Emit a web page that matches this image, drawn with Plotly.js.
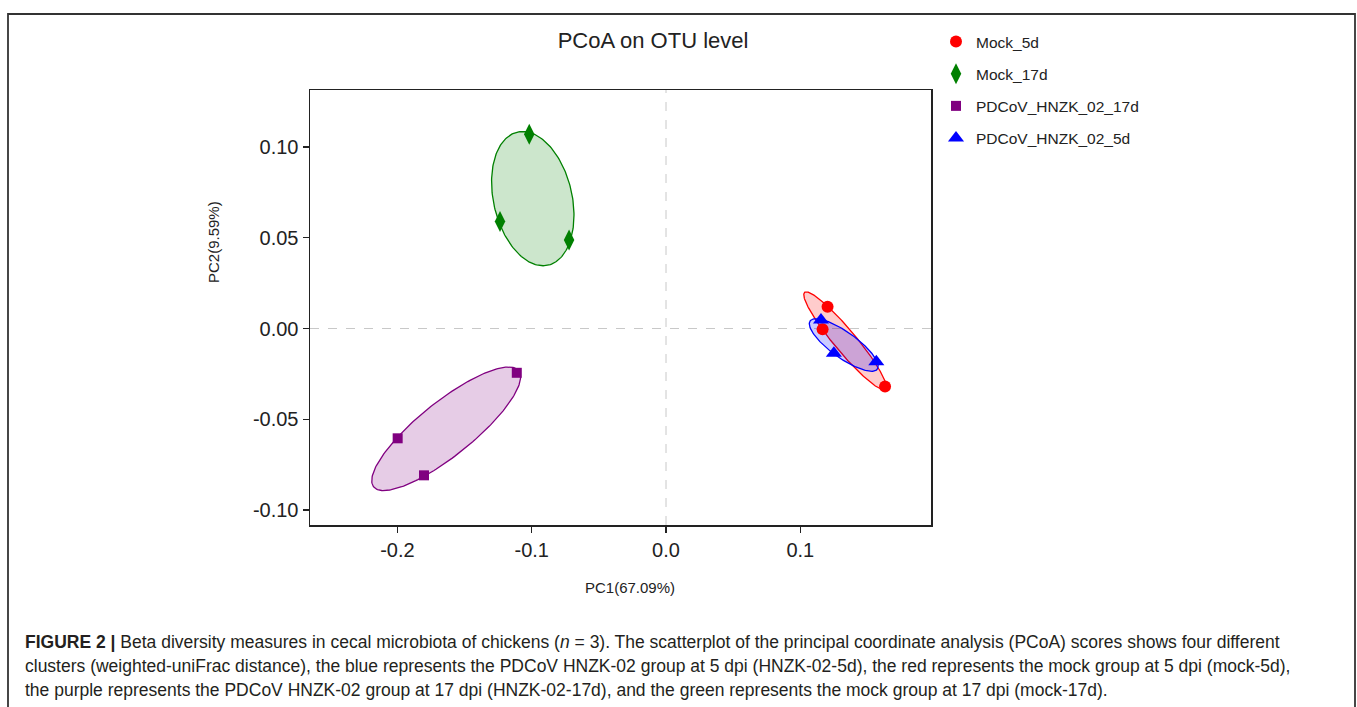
<!DOCTYPE html>
<html>
<head>
<meta charset="utf-8">
<script src="https://cdn.plot.ly/plotly-3.0.1.min.js"></script>
<style>
  html, body { margin: 0; padding: 0; background: #ffffff; }
  #chart { width: 1357px; height: 707px; }
</style>
</head>
<body>
<div id="chart"></div>
<script>
// ---- Data ----
const groupNames = ["Mock_5d", "Mock_17d", "PDCoV_HNZK_02_17d", "PDCoV_HNZK_02_5d"];
const mock5dPC1 = [0.1203, 0.1166, 0.1631];
const mock5dPC2 = [0.0120, -0.0004, -0.0320];
const mock17dPC1 = [-0.1018, -0.1236, -0.0722];
const mock17dPC2 = [0.1070, 0.0589, 0.0488];
const pd17dPC1 = [-0.1111, -0.1998, -0.1802];
const pd17dPC2 = [-0.0244, -0.0605, -0.0809];
const pd5dPC1 = [0.1154, 0.1250, 0.1566];
const pd5dPC2 = [0.0047, -0.0137, -0.0183];
const xTickVals = [-0.2, -0.1, 0.0, 0.1];
const xTickText = ["-0.2", "-0.1", "0.0", "0.1"];
const yTickVals = [-0.10, -0.05, 0.00, 0.05, 0.10];
const yTickText = ["-0.10", "-0.05", "0.00", "0.05", "0.10"];

// ---- Styles ----
const colors = ["#FF0000", "#008000", "#800080", "#0000FF"];
const fills = ["rgba(255,0,0,0.2)", "rgba(0,128,0,0.2)", "rgba(128,0,128,0.2)", "rgba(0,0,255,0.2)"];
const symbols = ["circle", "diamond-tall", "square", "triangle-up"];
const sizes = [12, 15, 10, 14];

const groupsX = [mock5dPC1, mock17dPC1, pd17dPC1, pd5dPC1];
const groupsY = [mock5dPC2, mock17dPC2, pd17dPC2, pd5dPC2];

// covariance ellipse through the group's points (centred on the centroid)
function ellipse(xs, ys, nPts) {
  const m = xs.length;
  const mx = xs.reduce((a, b) => a + b, 0) / m;
  const my = ys.reduce((a, b) => a + b, 0) / m;
  let sxx = 0, syy = 0, sxy = 0;
  for (let i = 0; i < m; i++) {
    sxx += (xs[i] - mx) ** 2; syy += (ys[i] - my) ** 2; sxy += (xs[i] - mx) * (ys[i] - my);
  }
  sxx /= (m - 1); syy /= (m - 1); sxy /= (m - 1);
  const det = sxx * syy - sxy * sxy;
  let d2max = 0;
  for (let i = 0; i < m; i++) {
    const dx = xs[i] - mx, dy = ys[i] - my;
    const d2 = (syy * dx * dx - 2 * sxy * dx * dy + sxx * dy * dy) / det;
    if (d2 > d2max) d2max = d2;
  }
  const r = Math.sqrt(d2max) * 1.03;
  const half = (sxx + syy) / 2;
  const disc = Math.sqrt(((sxx - syy) / 2) ** 2 + sxy * sxy);
  const l1 = half + disc, l2 = Math.max(half - disc, 0);
  const th = 0.5 * Math.atan2(2 * sxy, sxx - syy);
  const a = r * Math.sqrt(l1), b = r * Math.sqrt(l2);
  const ex = [], ey = [];
  for (let k = 0; k <= nPts; k++) {
    const t = 2 * Math.PI * k / nPts;
    ex.push(mx + a * Math.cos(t) * Math.cos(th) - b * Math.sin(t) * Math.sin(th));
    ey.push(my + a * Math.cos(t) * Math.sin(th) + b * Math.sin(t) * Math.cos(th));
  }
  return { x: ex, y: ey };
}

const traces = [];
for (let g = 0; g < groupNames.length; g++) {
  const e = ellipse(groupsX[g], groupsY[g], 200);
  traces.push({
    type: "scatter", mode: "lines", x: e.x, y: e.y,
    fill: "toself", fillcolor: fills[g],
    line: { color: colors[g], width: 1.3 },
    showlegend: false, hoverinfo: "skip", legendgroup: "g" + g
  });
}
for (let g = 0; g < groupNames.length; g++) {
  traces.push({
    type: "scatter", mode: "markers", name: groupNames[g],
    x: groupsX[g], y: groupsY[g],
    marker: { color: colors[g], symbol: symbols[g], size: sizes[g], line: { width: 0 } },
    legendgroup: "g" + g
  });
}

const font = "Liberation Sans, Arial, Helvetica, sans-serif";
const W = 1357, H = 707, L = 310, R = 931, T = 90, B = 525;
const pw = R - L, ph = B - T;
const px = (p) => (p - L) / pw;          // pixel -> paper x
const py = (p) => (B - p) / ph;          // pixel -> paper y

const captionLines = [
  "<b>FIGURE 2 |</b> Beta diversity measures in cecal microbiota of chickens (<i>n</i> = 3). The scatterplot of the principal coordinate analysis (PCoA) scores shows four different",
  "clusters (weighted-uniFrac distance), the blue represents the PDCoV HNZK-02 group at 5 dpi (HNZK-02-5d), the red represents the mock group at 5 dpi (mock-5d),",
  "the purple represents the PDCoV HNZK-02 group at 17 dpi (HNZK-02-17d), and the green represents the mock group at 17 dpi (mock-17d)."
];
const captionY = [642, 666, 690];

const annotations = [
  { text: "PC2(9.59%)", xref: "paper", yref: "paper", x: px(213), y: py(242), textangle: -90,
    showarrow: false, xanchor: "center", yanchor: "middle", font: { family: font, size: 15, color: "#222" } },
  { text: "PC1(67.09%)", xref: "paper", yref: "paper", x: px(630), y: py(587),
    showarrow: false, xanchor: "center", yanchor: "middle", font: { family: font, size: 15, color: "#222" } }
];
captionLines.forEach((t, i) => annotations.push({
  text: t, xref: "paper", yref: "paper", x: px(23), y: py(captionY[i]),
  showarrow: false, xanchor: "left", yanchor: "middle", align: "left",
  font: { family: font, size: 17.5, color: "#231f20" }
}));

const layout = {
  width: W, height: H,
  margin: { l: L, r: W - R, t: T, b: H - B, pad: 0 },
  paper_bgcolor: "#ffffff", plot_bgcolor: "#ffffff",
  font: { family: font, color: "#222" },
  title: { text: "PCoA on OTU level", xref: "paper", x: px(653), y: 1 - 40 / H,
    xanchor: "center", yanchor: "middle", font: { family: font, size: 22, color: "#222" } },
  xaxis: {
    range: [(L - 666) / 1343, (R - 666) / 1343],
    tickvals: xTickVals, ticktext: xTickText,
    showgrid: false, zeroline: false,
    showline: true, mirror: true, linecolor: "#222", linewidth: 1.5,
    ticks: "outside", ticklen: 6, tickwidth: 1.2, tickcolor: "#222",
    tickfont: { family: font, size: 20, color: "#222" }
  },
  yaxis: {
    range: [-(B - 328.5) / 1815, (328.5 - T) / 1815],
    tickvals: yTickVals, ticktext: yTickText,
    showgrid: false, zeroline: false,
    showline: true, mirror: true, linecolor: "#222", linewidth: 1.5,
    ticks: "outside", ticklen: 6, tickwidth: 1.2, tickcolor: "#222",
    tickfont: { family: font, size: 20, color: "#222" }
  },
  legend: {
    x: px(936), y: py(25), xanchor: "left", yanchor: "top",
    font: { family: font, size: 15.5, color: "#222" },
    tracegroupgap: 9, traceorder: "grouped", bgcolor: "rgba(0,0,0,0)"
  },
  shapes: [
    { type: "line", xref: "x", yref: "paper", x0: 0, x1: 0, y0: 0, y1: 1,
      line: { color: "#c8c8c8", width: 1, dash: "dash" }, layer: "below" },
    { type: "line", xref: "paper", yref: "y", x0: 0, x1: 1, y0: 0, y1: 0,
      line: { color: "#c8c8c8", width: 1, dash: "dash" }, layer: "below" },
    { type: "rect", xref: "paper", yref: "paper", x0: px(8), x1: px(1355), y0: py(14), y1: py(712),
      line: { color: "#333", width: 1.8 }, fillcolor: "rgba(0,0,0,0)" }
  ],
  annotations: annotations,
  showlegend: true
};

Plotly.newPlot("chart", traces, layout, { displayModeBar: false, staticPlot: true });
</script>
</body>
</html>
